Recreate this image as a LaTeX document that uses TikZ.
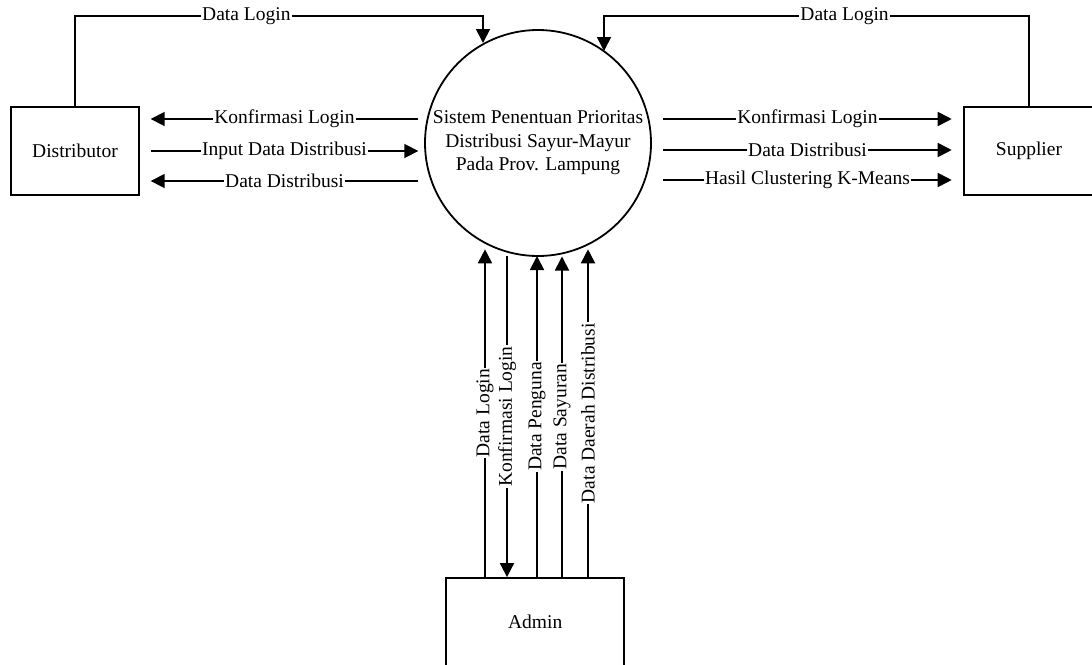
\documentclass[tikz,border=0pt]{standalone}
\usepackage{fontspec}
\setmainfont{Liberation Serif}
\usetikzlibrary{arrows.meta}

\tikzset{
  base/.style={font=\fontsize{19.5}{23.5}\selectfont},
  entity/.style={base, draw, line width=1.8pt, minimum width=128pt, minimum height=88pt, inner sep=0pt},
  process/.style={base, draw, line width=1.8pt, circle, minimum size=226pt, inner sep=0pt, align=center},
  flow/.style={line width=1.8pt, -{Triangle[length=14pt,width=14pt]}},
  lbl/.style={base, fill=white, inner sep=1pt},
  vlbl/.style={lbl, rotate=90}
}

\begin{document}
\begin{tikzpicture}[x=1pt, y=-1pt]
  \useasboundingbox (0,0) rectangle (1092,664);

  % external entities and the process
  \node[entity] (dist) at (75,151.2) {Distributor};
  \node[entity, minimum width=130pt] (sup) at (1029,151.2) {Supplier};
  \node[entity, minimum width=178pt] (admin) at (535.2,622) {Admin};
  \node[process] (proc) at (538,143) {Sistem Penentuan Prioritas\\Distribusi Sayur-Mayur\\Pada Prov. Lampung};

  % login flows over the top
  \coordinate (inL) at (483,43);
  \coordinate (inR) at (604,51);
  \draw[flow] (dist.north) -- (dist.north |- 0,16) -| node[lbl, pos=0.21] {Data Login} (inL);
  \draw[flow] (sup.north) -- (sup.north |- 0,16) -| node[lbl, pos=0.217] {Data Login} (inR);

  % distributor side
  \coordinate (dA) at (150.7,119);  \coordinate (pA) at (418.3,119);
  \coordinate (dB) at (150.7,151);  \coordinate (pB) at (418.3,151);
  \coordinate (dC) at (150.7,181);  \coordinate (pC) at (418.3,181);
  \draw[flow] (pA) -- node[lbl] {Konfirmasi Login} (dA);
  \draw[flow] (dB) -- node[lbl] {Input Data Distribusi} (pB);
  \draw[flow] (pC) -- node[lbl] {Data Distribusi} (dC);

  % supplier side
  \coordinate (qA) at (663.3,119);  \coordinate (sA) at (951.7,119);
  \coordinate (qB) at (663.3,150);  \coordinate (sB) at (951.7,150);
  \coordinate (qC) at (663.3,180);  \coordinate (sC) at (951.7,180);
  \draw[flow] (qA) -- node[lbl] {Konfirmasi Login} (sA);
  \draw[flow] (qB) -- node[lbl] {Data Distribusi} (sB);
  \draw[flow] (qC) -- node[lbl] {Hasil Clustering K-Means} (sC);

  % admin flows
  \coordinate (b1) at (485,249.3);
  \coordinate (b2) at (507,256);
  \coordinate (b3) at (537,256);
  \coordinate (b4) at (562,256.5);
  \coordinate (b5) at (588,249.3);
  \draw[flow] (admin.north -| b1) -- node[vlbl] {Data Login} (b1);
  \draw[flow] (b2) -- node[vlbl] {Konfirmasi Login} (admin.north -| b2);
  \draw[flow] (admin.north -| b3) -- node[vlbl] {Data Penguna} (b3);
  \draw[flow] (admin.north -| b4) -- node[vlbl] {Data Sayuran} (b4);
  \draw[flow] (admin.north -| b5) -- node[vlbl] {Data Daerah Distribusi} (b5);
\end{tikzpicture}
\end{document}
